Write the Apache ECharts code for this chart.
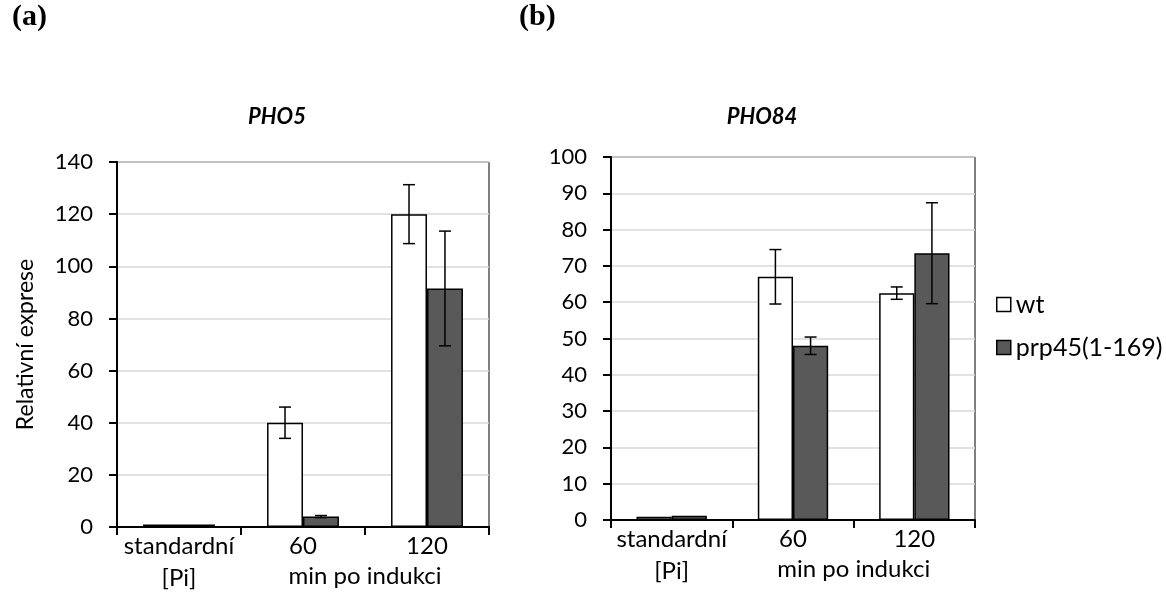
<!DOCTYPE html>
<html>
<head>
<meta charset="utf-8">
<script src="https://cdn.jsdelivr.net/npm/echarts@6/dist/echarts.min.js"></script>
<style>
html,body{margin:0;padding:0;background:#fff;}
#chart{width:1166px;height:614px;}
</style>
</head>
<body>
<div id="chart"></div>
<script>
// ---- data ----
const categories = ['standardní\n[Pi]', '60', '120'];
const groupLabel = 'min po indukci';
const seriesNames = ['wt', 'prp45(1-169)'];
const panelTitles = ['PHO5', 'PHO84'];
const panelLetters = ['(a)', '(b)'];
const yAxisTitle = 'Relativní exprese';

const pho5Wt = [1, 40, 120];
const pho5WtErr = [0, 6, 11.3];
const pho5Prp = [1, 4, 91.5];
const pho5PrpErr = [0, 0.4, 22];

const pho84Wt = [0.9, 67, 62.5];
const pho84WtErr = [0, 7.5, 1.7];
const pho84Prp = [1.2, 48, 73.5];
const pho84PrpErr = [0, 2.4, 13.9];

const yTicksA = [0, 20, 40, 60, 80, 100, 120, 140];
const yTicksB = [0, 10, 20, 30, 40, 50, 60, 70, 80, 90, 100];

// ---- styling ----
const FONT = 'Lato';
const CAT_GAP = 0.42;
const colors = ['#ffffff', '#595959'];

function errSeries(name, gridIdx, side, vals, errs) {
  return {
    type: 'custom',
    name: name + '_err',
    xAxisIndex: gridIdx * 2,
    yAxisIndex: gridIdx,
    silent: true,
    z: 5,
    encode: {x: 0, y: 1},
    data: vals.map((v, i) => [i, v, errs[i]]),
    renderItem: function (params, api) {
      const idx = api.value(0), v = api.value(1), e = api.value(2);
      if (!e) return null;
      const band = api.size([1, 0])[0];
      const bw = band * (1 - CAT_GAP) / 2;
      const off = side * bw / 2;
      const top = api.coord([idx, v + e]);
      const bot = api.coord([idx, Math.max(v - e, 0)]);
      const x = top[0] + off;
      const cap = 6;
      const st = {stroke: '#000', lineWidth: 1.5};
      return {
        type: 'group',
        children: [
          {type: 'line', shape: {x1: x, y1: top[1], x2: x, y2: bot[1]}, style: st},
          {type: 'line', shape: {x1: x - cap, y1: top[1], x2: x + cap, y2: top[1]}, style: st},
          {type: 'line', shape: {x1: x - cap, y1: bot[1], x2: x + cap, y2: bot[1]}, style: st}
        ]
      };
    }
  };
}

function barSeries(name, gridIdx, colorIdx, vals) {
  return {
    type: 'bar',
    name: name,
    xAxisIndex: gridIdx * 2,
    yAxisIndex: gridIdx,
    data: vals,
    barGap: '0%',
    barCategoryGap: (CAT_GAP * 100) + '%',
    itemStyle: {color: colors[colorIdx], borderColor: '#000', borderWidth: 1.5},
    emphasis: {disabled: true},
    z: 2
  };
}

function catAxis(gridIdx) {
  return {
    type: 'category',
    gridIndex: gridIdx,
    data: categories,
    axisLine: {lineStyle: {color: '#000', width: 2}},
    axisTick: {show: true, inside: false, length: 8, lineStyle: {color: '#000', width: 2}},
    axisLabel: {interval: 0, color: '#000', fontFamily: FONT, fontSize: 24, lineHeight: 32, margin: 3}
  };
}

function groupAxis(gridIdx) {
  return {
    type: 'value',
    gridIndex: gridIdx,
    position: 'bottom',
    min: 0, max: categories.length, interval: 1,
    axisLine: {show: false}, axisTick: {show: false}, splitLine: {show: false},
    axisLabel: {
      color: '#000', fontFamily: FONT, fontSize: 24, margin: 37,
      formatter: v => (v === 2 ? groupLabel : '')
    }
  };
}

function valAxis(gridIdx, ticks, withName) {
  const ax = {
    type: 'value',
    gridIndex: gridIdx,
    min: ticks[0],
    max: ticks[ticks.length - 1],
    interval: ticks[1] - ticks[0],
    axisLine: {show: true, lineStyle: {color: '#000', width: 2}},
    axisTick: {show: true, inside: false, length: 8, lineStyle: {color: '#000', width: 2}},
    axisLabel: {color: '#000', fontFamily: FONT, fontSize: 22, margin: 24},
    splitLine: {show: true, lineStyle: {color: '#d9d9d9', width: 1.5}}
  };
  if (withName) {
    ax.name = yAxisTitle;
    ax.nameLocation = 'middle';
    ax.nameGap = 80;
    ax.nameTextStyle = {color: '#000', fontFamily: FONT, fontSize: 23};
  }
  return ax;
}

const chart = echarts.init(document.getElementById('chart'), null, {renderer: 'canvas'});

const option = {
  backgroundColor: '#fff',
  animation: false,
  textStyle: {fontFamily: FONT},
  grid: [
    {left: 117, top: 162, width: 372, height: 365, show: true, borderColor: '#000', borderWidth: 1, backgroundColor: 'transparent'},
    {left: 611, top: 157, width: 364, height: 363, show: true, borderColor: '#000', borderWidth: 1, backgroundColor: 'transparent'}
  ],
  xAxis: [catAxis(0), groupAxis(0), catAxis(1), groupAxis(1)],
  yAxis: [valAxis(0, yTicksA, true), valAxis(1, yTicksB, false)],
  legend: {
    orient: 'vertical',
    left: 991,
    top: 287,
    itemWidth: 14,
    itemHeight: 14,
    itemGap: 18,
    icon: 'rect',
    selectedMode: false,
    textStyle: {color: '#000', fontFamily: FONT, fontSize: 25, padding: [0, 0, 0, 0]},
    data: [
      {name: seriesNames[0], itemStyle: {color: colors[0], borderColor: '#000', borderWidth: 1.5}},
      {name: seriesNames[1], itemStyle: {color: colors[1], borderColor: '#000', borderWidth: 1.5}}
    ]
  },
  graphic: [
    {type: 'text', left: 12, top: 2, style: {text: panelLetters[0], font: 'bold 30px "Liberation Serif"', fill: '#000'}},
    {type: 'text', left: 519, top: 2, style: {text: panelLetters[1], font: 'bold 30px "Liberation Serif"', fill: '#000'}},
    {type: 'text', x: 277, y: 117, style: {text: panelTitles[0], font: 'italic bold 22px Lato', fill: '#000', align: 'center', verticalAlign: 'middle'}},
    {type: 'text', x: 762, y: 117, style: {text: panelTitles[1], font: 'italic bold 22px Lato', fill: '#000', align: 'center', verticalAlign: 'middle'}}
  ],
  series: [
    barSeries(seriesNames[0], 0, 0, pho5Wt),
    barSeries(seriesNames[1], 0, 1, pho5Prp),
    barSeries(seriesNames[0], 1, 0, pho84Wt),
    barSeries(seriesNames[1], 1, 1, pho84Prp),
    errSeries(seriesNames[0], 0, -1, pho5Wt, pho5WtErr),
    errSeries(seriesNames[1], 0, 1, pho5Prp, pho5PrpErr),
    errSeries(seriesNames[0], 1, -1, pho84Wt, pho84WtErr),
    errSeries(seriesNames[1], 1, 1, pho84Prp, pho84PrpErr)
  ]
};
chart.setOption(option);
</script>
</body>
</html>
